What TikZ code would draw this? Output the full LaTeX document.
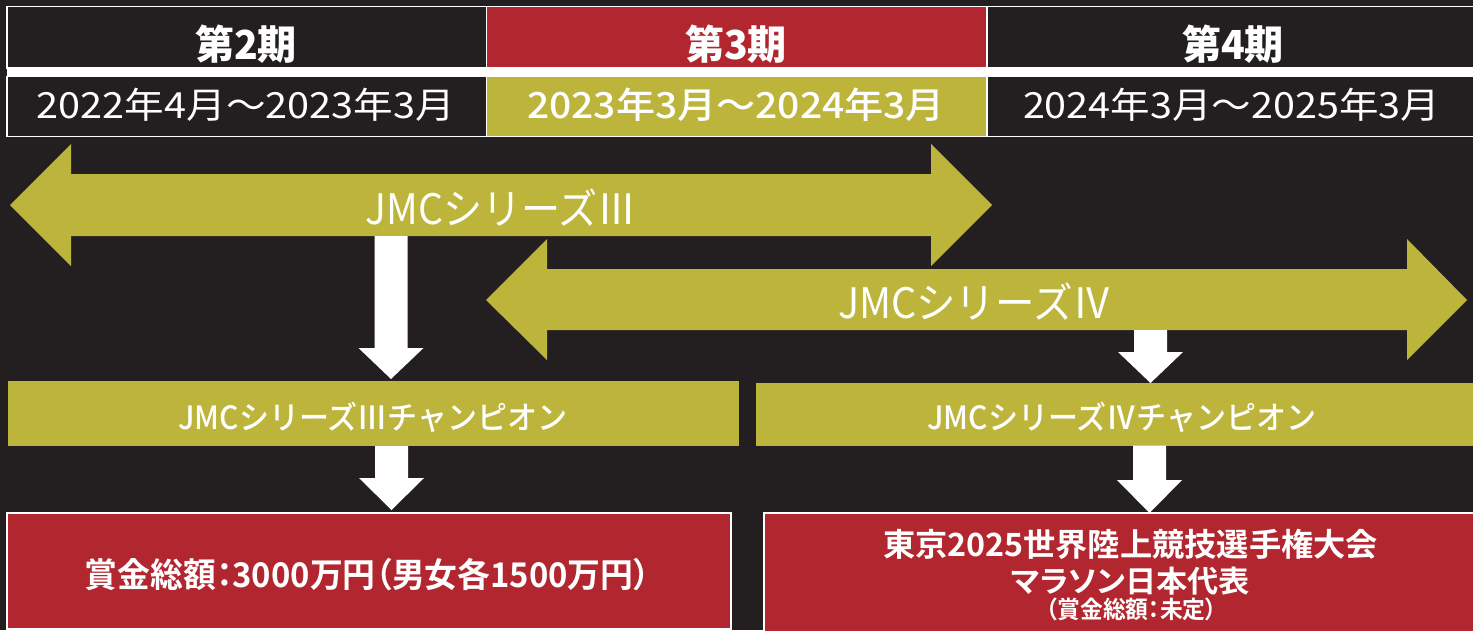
\documentclass[tikz,border=0pt]{standalone}
\usepackage{fontspec}
\usepackage{graphicx}
\newfontfamily\jp{Noto Sans CJK JP}
\newfontfamily\jpm{Noto Sans CJK JP Medium}
\newfontfamily\jpbp[RawFeature=+palt]{Noto Sans CJK JP Bold}
\newcommand\hfit[2]{\resizebox{#1}{\height}{#2}}
\newcommand\blockdown[4]{\fill[white] (#1-16.5,#2) -- (#1+16.5,#2) -- (#1+16.5,#3) -- (#1+32.5,#3) -- (#1,#4) -- (#1-32.5,#3) -- (#1-16.5,#3) -- cycle;}
\definecolor{bgdark}{HTML}{231F20}
\definecolor{jred}{HTML}{B1262F}
\definecolor{jolive}{HTML}{BDB53B}
\tikzset{
  cell/.style={rectangle, draw=white, line width=1.5pt, inner sep=0pt, outer sep=0pt},
  box/.style={rectangle, inner sep=0pt, outer sep=0pt},
  redbox/.style={rectangle, fill=jred, draw=white, line width=2pt, inner sep=0pt, outer sep=0pt},
  txt/.style={text=white, inner sep=0pt, anchor=base},
  fhead/.style={font={\jp\bfseries\fontsize{40pt}{40pt}\selectfont}},
  fdate/.style={font={\jp\fontsize{36pt}{36pt}\selectfont}},
  fdateb/.style={font={\jpm\fontsize{36pt}{36pt}\selectfont}},
  fser/.style={font={\jp\fontsize{42pt}{42pt}\selectfont}},
  fchamp/.style={font={\jpm\fontsize{32pt}{32pt}\selectfont}},
  fprize/.style={font={\jpbp\fontsize{34pt}{34pt}\selectfont}},
}
\begin{document}
\begin{tikzpicture}[x=1pt,y=-1pt]
\useasboundingbox (0,0) rectangle (1473,630);
\clip (0,0) rectangle (1473,630);
\fill[bgdark] (0,0) rectangle (1473,630);

% header table
\fill[white] (7,67) rectangle (1476,77.5);
\node[cell, fill=bgdark, minimum width=479.5pt, minimum height=61.5pt] (p2) at (246.75,37.25) {};
\node[cell, fill=jred,   minimum width=500.5pt, minimum height=61.5pt] (p3) at (736.75,37.25) {};
\node[cell, fill=bgdark, minimum width=489pt,   minimum height=61.5pt] (p4) at (1231.5,37.25) {};
\node[cell, fill=bgdark, minimum width=479.5pt, minimum height=60pt] (d2) at (246.75,106.5) {};
\node[cell, fill=jolive, minimum width=500.5pt, minimum height=60pt] (d3) at (736.75,106.5) {};
\node[cell, fill=bgdark, minimum width=489pt,   minimum height=60pt] (d4) at (1231.5,106.5) {};

\node[txt, fhead] (t2) at (246,59.5) {\hfit{102pt}{第2期}};
\node[txt, fhead] (t3) at (736,59.5) {\hfit{102pt}{第3期}};
\node[txt, fhead] (t4) at (1233,59.5) {\hfit{102pt}{第4期}};
\node[txt, fdate] (r2) at (246,118.5) {\hfit{418pt}{2022年4月〜2023年3月}};
\node[txt, fdateb] (r3) at (736,118.5) {\hfit{418pt}{2023年3月〜2024年3月}};
\node[txt, fdate] (r4) at (1231.5,118.5) {\hfit{417pt}{2024年3月〜2025年3月}};

% series arrows
\fill[jolive] (10,205) -- (71,144) -- (71,174) -- (931,174) -- (931,144) -- (992,205)
  -- (931,266) -- (931,236) -- (71,236) -- (71,266) -- cycle;
\fill[jolive] (486,300) -- (547,239) -- (547,269) -- (1407,269) -- (1407,239) -- (1467,300)
  -- (1407,360) -- (1407,330) -- (547,330) -- (547,360) -- cycle;
\node[txt, fser] (s3) at (501,224.5) {\hfit{271pt}{JMCシリーズⅢ}};
\node[txt, fser] (s4) at (975,318) {\hfit{274pt}{JMCシリーズⅣ}};

% champion boxes
\node[box, fill=jolive, minimum width=731pt, minimum height=65pt] (c3) at (373.5,413.5) {};
\node[box, fill=jolive, minimum width=719pt, minimum height=62.5pt] (c4) at (1115.5,414.25) {};
\node[txt, fchamp] (ct3) at (373,429) {\hfit{389pt}{JMCシリーズⅢチャンピオン}};
\node[txt, fchamp] (ct4) at (1122,429) {\hfit{389pt}{JMCシリーズⅣチャンピオン}};

% prize boxes
\node[redbox, minimum width=723.5pt, minimum height=116pt] (b3) at (368.75,571) {};
\node[redbox, minimum width=712.5pt, minimum height=119pt] (b4) at (1119.75,572.5) {};
\node[txt, fprize] (pt3) at (367.5,587) {\hfit{565pt}{賞金総額：3000万円（男女各1500万円）}};
\node[txt, font={\jpbp\fontsize{32pt}{32pt}\selectfont}] (pt4a) at (1130.5,556) {\hfit{495pt}{東京2025世界陸上競技選手権大会}};
\node[txt, font={\jpbp\fontsize{30pt}{30pt}\selectfont}] (pt4b) at (1130.5,592) {\hfit{239pt}{マラソン日本代表}};
\node[txt, font={\jpbp\fontsize{24pt}{24pt}\selectfont}] (pt4c) at (1131.5,618) {\hfit{171pt}{（賞金総額：未定）}};

% white connector arrows
\blockdown{391}{236}{348}{379}
\blockdown{1150.5}{330}{352}{383}
\blockdown{391.5}{446}{478}{510}
\blockdown{1149.5}{445.5}{480}{513}
\end{tikzpicture}
\end{document}
